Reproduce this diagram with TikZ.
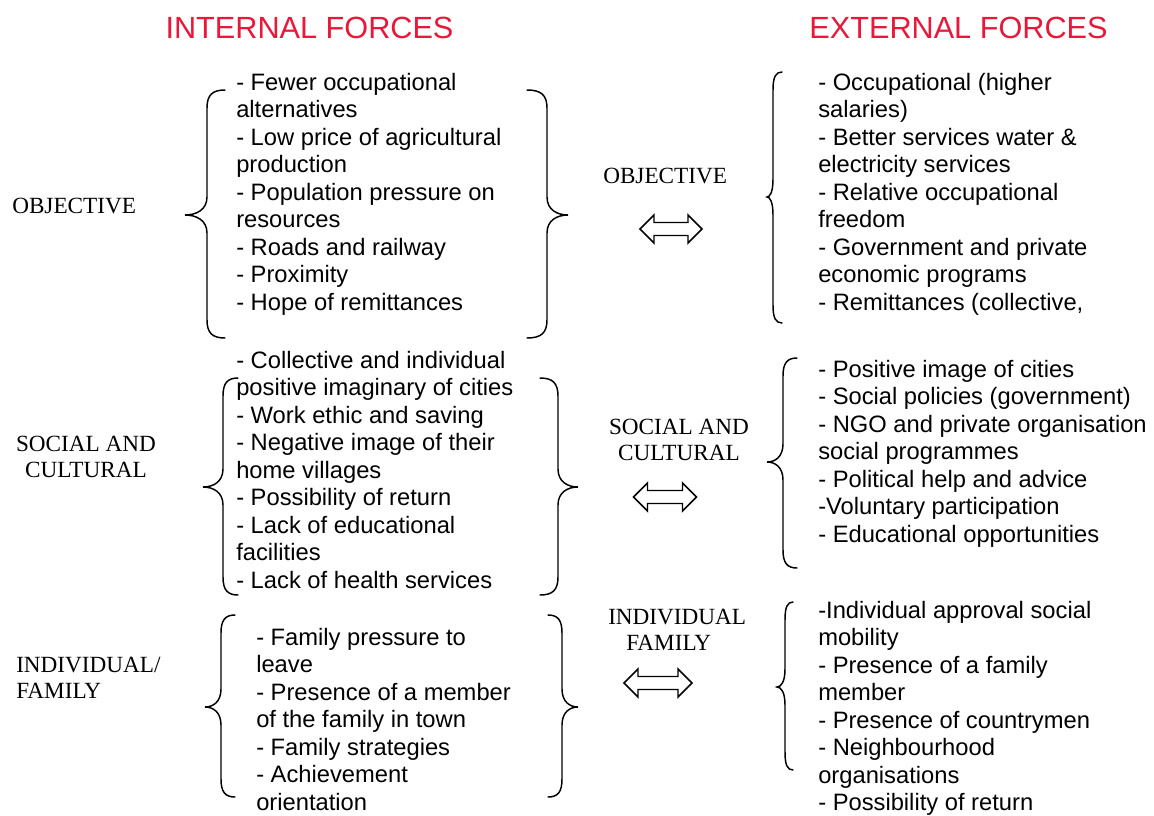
\documentclass[tikz,border=0pt]{standalone}
\usepackage{fontspec}
\newfontfamily\arialf{Liberation Sans}
\newfontfamily\seriff{Liberation Serif}
\definecolor{forcered}{RGB}{232,24,58}

% curly brace: end x, spine x, tip x, top y, tip y, bottom y (px, y downwards)
\newcommand{\curly}[6]{%
  \draw[bracepen] (#1,#4) .. controls ({#2+0.3*(#1-#2)},#4) and (#2,{#4+5}) .. (#2,{#4+18})
    -- (#2,{#5-18}) .. controls (#2,{#5-5}) and ({#3+0.5*(#2-#3)},#5) .. (#3,#5)
    .. controls ({#3+0.5*(#2-#3)},#5) and (#2,{#5+5}) .. (#2,{#5+18})
    -- (#2,{#6-18}) .. controls (#2,{#6-5}) and ({#2+0.3*(#1-#2)},#6) .. (#1,#6);}

% hollow double-headed arrow around a centre (x, y, half length)
\newcommand{\dblarrow}[3]{%
  \draw[arrowpen] ({#1-#3},#2) -- ({#1-#3+14},{#2-14}) -- ({#1-#3+14},{#2-6.5})
    -- ({#1+#3-14},{#2-6.5}) -- ({#1+#3-14},{#2-14}) -- ({#1+#3},#2)
    -- ({#1+#3-14},{#2+14}) -- ({#1+#3-14},{#2+6.5}) -- ({#1-#3+14},{#2+6.5})
    -- ({#1-#3+14},{#2+14}) -- cycle;}

\begin{document}
\begin{tikzpicture}[x=0.75pt,y=-0.75pt]
\tikzset{
  heading/.style={font=\arialf\fontsize{23}{27}\selectfont, text=forcered, anchor=base, inner sep=0},
  items/.style={font=\arialf\fontsize{17.8}{20.6}\selectfont, align=left, anchor=north west, inner sep=0},
  category/.style={font=\seriff\fontsize{17.4}{19.5}\selectfont, inner sep=0},
  bracepen/.style={line width=1.1pt, line cap=round},
  arrowpen/.style={line width=1.1pt, line join=miter, fill=white},
}
\useasboundingbox (0,0) rectangle (1154,815);

% column headings
\node[heading] (hin) at (309.5,38) {INTERNAL FORCES};
\node[heading] (hex) at (958.5,38) {EXTERNAL FORCES};

% category labels, left column
\node[category, anchor=base west] (cobjL) at (12,213) {OBJECTIVE};
\node[category, anchor=north, align=center] (csocL) at (86,432.8) {\strut SOCIAL AND\\CULTURAL};
\node[category, anchor=north west, align=left] (cindL) at (16,653.8) {\strut INDIVIDUAL/\\FAMILY};

% category labels, middle column
\node[category, anchor=base west] (cobjM) at (603,183) {OBJECTIVE};
\node[category, anchor=north, align=center] (csocM) at (679,415.8) {\strut SOCIAL AND\\CULTURAL};
\node[category, anchor=north west, align=left] (cindM) at (608,605.8) {\strut INDIVIDUAL\\\hspace*{13.5pt}FAMILY};

% internal forces
\node[items] (in1) at (236,70.8) {\strut - Fewer occupational\\alternatives\\- Low price of agricultural\\production\\- Population pressure on\\resources\\- Roads and railway\\- Proximity\\- Hope of remittances};
\node[items] (in2) at (236,348.8) {\strut - Collective and individual\\positive imaginary of cities\\- Work ethic and saving\\- Negative image of their\\home villages\\- Possibility of return\\- Lack of educational\\facilities\\- Lack of health services};
\node[items] (in3) at (256,625.8) {\strut - Family pressure to\\leave\\- Presence of a member\\of the family in town\\- Family strategies\\- Achievement\\orientation};

% external forces
\node[items] (ex1) at (818,70.8) {\strut - Occupational (higher\\salaries)\\- Better services water \&\\electricity services\\- Relative occupational\\freedom\\- Government and private\\economic programs\\- Remittances (collective,};
\node[items] (ex2) at (818,357.8) {\strut - Positive image of cities\\- Social policies (government)\\- NGO and private organisation\\social programmes\\- Political help and advice\\-Voluntary participation\\- Educational opportunities};
\node[items] (ex3) at (818,598.8) {\strut -Individual approval social\\mobility\\- Presence of a family\\member\\- Presence of countrymen\\- Neighbourhood\\organisations\\- Possibility of return};

% braces round the internal lists
\curly{225}{207}{185}{90}{215}{338}
\curly{527}{547}{568}{90}{215}{338}
\curly{238}{223}{203}{378}{487}{595}
\curly{540}{558}{578}{378}{487}{595}
\curly{235}{221}{205}{615}{707}{797}
\curly{548}{562}{578}{615}{707}{797}

% opening braces of the external lists
\curly{782}{773}{767}{72}{197}{323}
\curly{797}{783}{767}{358}{462}{568}
\curly{793}{785}{777}{602}{687}{770}

% two-way arrows between the columns
\dblarrow{671}{229}{31}
\dblarrow{665}{497}{31.5}
\dblarrow{658}{683}{34}
\end{tikzpicture}
\end{document}
